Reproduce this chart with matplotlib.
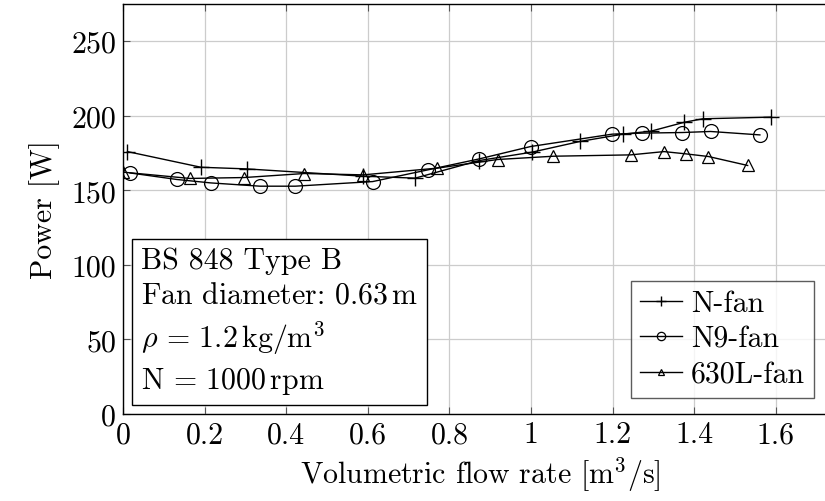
import numpy as np
import matplotlib
matplotlib.use("Agg")
import matplotlib.pyplot as plt
from matplotlib.ticker import FuncFormatter

plt.rcParams['font.family'] = 'serif'
plt.rcParams['font.serif'] = ['cmr10']
plt.rcParams['mathtext.fontset'] = 'cm'
plt.rcParams['axes.formatter.use_mathtext'] = True

# Datos
q_n = [0.011, 0.191, 0.303, 0.589, 0.716, 0.873, 1.002, 1.120, 1.225, 1.294, 1.376, 1.421, 1.588]
p_n = [176.0, 165.5, 164.4, 159.5, 158.2, 170.0, 175.6, 182.8, 187.7, 189.7, 195.7, 198.0, 199.1]

q_n9 = [0.017, 0.132, 0.215, 0.336, 0.422, 0.612, 0.748, 0.873, 0.999, 1.199, 1.273, 1.371, 1.440, 1.561]
p_n9 = [161.7, 157.3, 155.0, 152.8, 152.8, 155.9, 163.8, 171.1, 179.4, 187.7, 188.4, 188.8, 189.5, 187.2]

q_630 = [0.001, 0.164, 0.297, 0.444, 0.589, 0.770, 0.918, 1.055, 1.244, 1.326, 1.379, 1.435, 1.531]
p_630 = [162.2, 158.0, 158.6, 161.3, 160.4, 164.9, 170.7, 172.9, 173.8, 176.0, 174.5, 172.7, 166.7]

x_ticks = [0, 0.2, 0.4, 0.6, 0.8, 1.0, 1.2, 1.4, 1.6]
y_ticks = [0, 50, 100, 150, 200, 250]

fs = 21.5

fig = plt.figure(figsize=(8.25, 5.02), dpi=100)
ax = fig.add_axes([123 / 825, 1 - 415 / 502, (837 - 123) / 825, 410 / 502])

ax.plot(q_n, p_n, color='black', lw=1, marker='+', ms=11, mew=1, label='N-fan')
ax.plot(q_n9, p_n9, color='black', lw=1, marker='o', ms=10, mfc='none', mew=0.9, label='N9-fan')
ax.plot(q_630, p_630, color='black', lw=1, marker='^', ms=8, mfc='none', mew=0.9, label='630L-fan')

ax.set_xlim(0, 1.75)
ax.set_ylim(0, 275)
ax.set_xticks(x_ticks)
ax.set_yticks(y_ticks)
ax.xaxis.set_major_formatter(FuncFormatter(lambda v, p: '%g' % v))
ax.yaxis.set_major_formatter(FuncFormatter(lambda v, p: '%g' % v))
ax.tick_params(direction='in', top=True, right=True, labelsize=fs, length=5, width=0.8,
               color='#555555', pad=5)
ax.grid(True, color='#cccccc', lw=0.9)
ax.set_axisbelow(True)
for s in ax.spines.values():
    s.set_linewidth(1.0)

ax.set_xlabel(r'Volumetric flow rate [m$^3$/s]', fontsize=fs, labelpad=4)
ax.set_ylabel('Power [W]', fontsize=fs, labelpad=8)

texto = ('BS 848 Type B\n'
         r'Fan diameter: $0.63\,\mathrm{m}$' + '\n'
         r'$\rho\,=\,1.2\,\mathrm{kg/m^3}$' + '\n'
         r'$\mathrm{N}\,=\,1000\,\mathrm{rpm}$')
ax.text(0.025, 0.045, texto, transform=ax.transAxes, fontsize=fs, va='bottom', ha='left',
        linespacing=1.35,
        bbox=dict(boxstyle='square,pad=0.3', fc='white', ec='black', lw=1))

leg = ax.legend(loc='lower right', bbox_to_anchor=((814 - 123) / 714, 0.04), fontsize=fs,
                frameon=True, fancybox=False, edgecolor='#333333', handlelength=1.4,
                handletextpad=0.3, borderpad=0.3, labelspacing=0.28, markerscale=0.6,
                borderaxespad=0)
leg.get_frame().set_linewidth(1)

plt.savefig('out.png', dpi=100)
